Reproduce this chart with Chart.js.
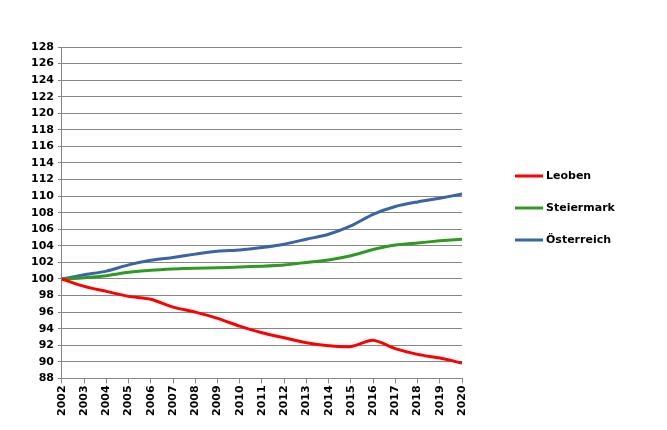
<!DOCTYPE html>
<html>
<head>
<meta charset="utf-8">
<script src="https://cdn.jsdelivr.net/npm/chart.js@4"></script>
<style>
  html, body { margin: 0; padding: 0; background: #fff; }
  #wrap { width: 667px; height: 430px; }
</style>
</head>
<body>
<div id="wrap"><canvas id="mainChart" width="667" height="430"></canvas></div>
<script>
// --- DATA ---
const years = ['2002','2003','2004','2005','2006','2007','2008','2009','2010','2011',
               '2012','2013','2014','2015','2016','2017','2018','2019','2020'];
const leoben = [100, 99.1, 98.5, 97.9, 97.55, 96.6, 96.0, 95.25, 94.3, 93.5,
                92.9, 92.3, 91.95, 91.85, 92.6, 91.6, 90.9, 90.45, 89.85];
const steiermark = [100, 100.15, 100.4, 100.8, 101.05, 101.2, 101.3, 101.35, 101.45, 101.55,
                    101.7, 102.0, 102.3, 102.8, 103.55, 104.1, 104.35, 104.6, 104.8];
const oesterreich = [100, 100.5, 100.95, 101.7, 102.25, 102.6, 103.0, 103.35, 103.5, 103.8,
                     104.2, 104.8, 105.4, 106.4, 107.8, 108.75, 109.3, 109.75, 110.25];
const seriesNames = ['Leoben', 'Steiermark', 'Österreich'];
const yMin = 88, yMax = 128, yStep = 2;

const FONT = { family: 'Verdana, "DejaVu Sans", sans-serif', size: 11, weight: 'bold' };

// --- LEGEND (drawn to the right of the plot, like the Excel original) ---
const sideLegend = {
    id: 'sideLegend',
    afterDraw(chart) {
        const c = chart.ctx;
        c.save();
        c.font = 'bold 11px Verdana, "DejaVu Sans", sans-serif';
        c.textBaseline = 'middle';
        c.fillStyle = '#000';
        chart.data.datasets.forEach((ds, i) => {
            const y = 176 + i * 32;
            c.strokeStyle = ds.borderColor;
            c.lineWidth = 3;
            c.beginPath();
            c.moveTo(515, y);
            c.lineTo(543, y);
            c.stroke();
            c.fillText(ds.label, 546, y);
        });
        c.restore();
    }
};

// --- CHART ---
const ctx = document.getElementById('mainChart').getContext('2d');
const mainChart = new Chart(ctx, {
    type: 'line',
    data: {
        labels: years,
        datasets: [
            { label: seriesNames[0], data: leoben, borderColor: '#ff0000' },
            { label: seriesNames[1], data: steiermark, borderColor: '#2e9a22' },
            { label: seriesNames[2], data: oesterreich, borderColor: '#3a64a6' }
        ].map(d => Object.assign(d, { borderWidth: 3, pointRadius: 0, tension: 0.25, fill: false }))
    },
    options: {
        responsive: false,
        animation: false,
        layout: { padding: { top: 47, left: 27, right: 205, bottom: 12 } },
        plugins: { legend: { display: false }, tooltip: { enabled: false } },
        scales: {
            x: {
                offset: false,
                grid: { display: true, drawOnChartArea: false, color: '#868686', tickLength: 5 },
                border: { color: '#868686', width: 1 },
                ticks: { color: '#000', font: FONT, minRotation: 90, maxRotation: 90, autoSkip: false, padding: 2 }
            },
            y: {
                min: yMin, max: yMax,
                grid: { color: '#868686', tickLength: 4 },
                border: { color: '#868686', width: 1 },
                ticks: { stepSize: yStep, color: '#000', font: FONT, padding: 4 }
            }
        }
    },
    plugins: [sideLegend]
});
</script>
</body>
</html>
